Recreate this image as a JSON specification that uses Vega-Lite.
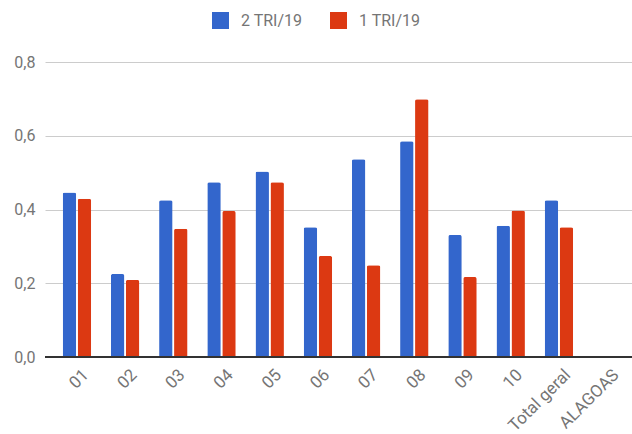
{
  "$schema": "https://vega.github.io/schema/vega-lite/v6.json",
  "width": 594,
  "height": 295,
  "autosize": "none",
  "padding": {"left": 45, "top": 62, "right": 0, "bottom": 77},
  "background": "white",
  "config": {
    "font": "Roboto",
    "view": {"stroke": null},
    "axis": {"labelFont": "Roboto", "labelColor": "#757575", "labelFontSize": 16}
  },
  "data": {
    "values": [
      {"reg": "01", "serie": "2 TRI/19", "v": 0.446},
      {"reg": "01", "serie": "1 TRI/19", "v": 0.429},
      {"reg": "02", "serie": "2 TRI/19", "v": 0.225},
      {"reg": "02", "serie": "1 TRI/19", "v": 0.209},
      {"reg": "03", "serie": "2 TRI/19", "v": 0.425},
      {"reg": "03", "serie": "1 TRI/19", "v": 0.348},
      {"reg": "04", "serie": "2 TRI/19", "v": 0.474},
      {"reg": "04", "serie": "1 TRI/19", "v": 0.396},
      {"reg": "05", "serie": "2 TRI/19", "v": 0.503},
      {"reg": "05", "serie": "1 TRI/19", "v": 0.474},
      {"reg": "06", "serie": "2 TRI/19", "v": 0.352},
      {"reg": "06", "serie": "1 TRI/19", "v": 0.274},
      {"reg": "07", "serie": "2 TRI/19", "v": 0.536},
      {"reg": "07", "serie": "1 TRI/19", "v": 0.249},
      {"reg": "08", "serie": "2 TRI/19", "v": 0.585},
      {"reg": "08", "serie": "1 TRI/19", "v": 0.699},
      {"reg": "09", "serie": "2 TRI/19", "v": 0.331},
      {"reg": "09", "serie": "1 TRI/19", "v": 0.217},
      {"reg": "10", "serie": "2 TRI/19", "v": 0.356},
      {"reg": "10", "serie": "1 TRI/19", "v": 0.397},
      {"reg": "Total geral", "serie": "2 TRI/19", "v": 0.425},
      {"reg": "Total geral", "serie": "1 TRI/19", "v": 0.352},
      {"reg": "ALAGOAS", "serie": "2 TRI/19", "v": null},
      {"reg": "ALAGOAS", "serie": "1 TRI/19", "v": null}
    ]
  },
  "layer": [
    {
      "mark": {"type": "bar", "cornerRadiusTopLeft": 2, "cornerRadiusTopRight": 2},
      "encoding": {
        "x": {
          "field": "reg", "type": "nominal", "sort": null,
          "scale": {"domain": ["01", "02", "03", "04", "05", "06", "07", "08", "09", "10", "Total geral", "ALAGOAS"], "paddingInner": 0.41, "paddingOuter": 0.367},
          "axis": {"title": null, "labelAngle": -45, "ticks": false, "domain": false, "labelPadding": 15, "labelOffset": 9, "labelFontSize": 17, "labelAlign": "right", "labelBaseline": "middle"}
        },
        "xOffset": {"field": "serie", "type": "nominal", "sort": ["2 TRI/19", "1 TRI/19"], "scale": {"paddingInner": 0.1}},
        "y": {
          "field": "v", "type": "quantitative",
          "scale": {"domain": [0, 0.8]},
          "axis": {"title": null, "values": [0, 0.2, 0.4, 0.6, 0.8], "labelExpr": "replace(format(datum.value, '.1f'), '.', ',')", "ticks": false, "domain": false, "gridColor": "#cccccc", "labelPadding": 10}
        },
        "color": {
          "field": "serie", "type": "nominal",
          "sort": ["2 TRI/19", "1 TRI/19"],
          "scale": {"domain": ["2 TRI/19", "1 TRI/19"], "range": ["#3366CC", "#DC3912"]},
          "legend": {"title": null, "orient": "none", "direction": "horizontal", "legendX": 167, "legendY": -50, "symbolType": "square", "symbolSize": 289, "symbolStrokeWidth": 0, "labelFontSize": 16, "labelColor": "#757575", "labelFont": "Roboto", "columnPadding": 27, "labelOffset": 12}
        }
      }
    },
    {
      "mark": {"type": "rule", "color": "#333333", "strokeWidth": 1.5},
      "encoding": {"y": {"datum": 0, "type": "quantitative"}}
    }
  ]
}
